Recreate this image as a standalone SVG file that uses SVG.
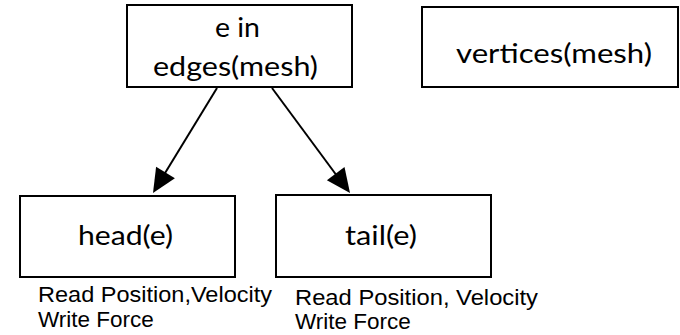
<svg xmlns="http://www.w3.org/2000/svg" width="680" height="335" viewBox="0 0 680 335">
<style>
.box{fill:#fff;stroke:#000;stroke-width:2}
.t{font-family:Lato,"Open Sans",sans-serif;font-size:26px;fill:#000}
.l{font-family:"Liberation Sans",Arial,sans-serif;font-size:22.5px;fill:#000}
.c{stroke:#000;stroke-width:2;fill:none}
.ah{fill:#000}
</style>
<rect width="680" height="335" fill="#fff"/>
<g id="connectors">
<path d="M217,88 L162,178" class="c"/>
<polygon class="ah" points="153,193 174.9,178.2 156.1,166.8"/>
<path d="M272,88 L340,180" class="c"/>
<polygon class="ah" points="350,193 344.5,167.1 326.9,180.3"/>
</g>
<g id="edges">
<rect class="box" x="127" y="5" width="225" height="82"/>
<text class="t" x="215" y="37" textLength="45" lengthAdjust="spacingAndGlyphs">e in</text>
<text class="t" x="153" y="76" textLength="165" lengthAdjust="spacingAndGlyphs">edges(mesh)</text>
</g>
<g id="vertices">
<rect class="box" x="422" y="7" width="256" height="80"/>
<text class="t" x="456" y="63" textLength="196" lengthAdjust="spacingAndGlyphs">vertices(mesh)</text>
</g>
<g id="head">
<rect class="box" x="20" y="196" width="215" height="81"/>
<text class="t" x="78" y="245" textLength="95" lengthAdjust="spacingAndGlyphs">head(e)</text>
<text class="l" x="38" y="302" textLength="234" lengthAdjust="spacingAndGlyphs">Read Position,Velocity</text>
<text class="l" x="38" y="327">Write Force</text>
</g>
<g id="tail">
<rect class="box" x="276" y="195" width="215" height="82"/>
<text class="t" x="345" y="245" textLength="72" lengthAdjust="spacingAndGlyphs">tail(e)</text>
<text class="l" x="295" y="305" textLength="243" lengthAdjust="spacingAndGlyphs">Read Position, Velocity</text>
<text class="l" x="295" y="329">Write Force</text>
</g>
</svg>
